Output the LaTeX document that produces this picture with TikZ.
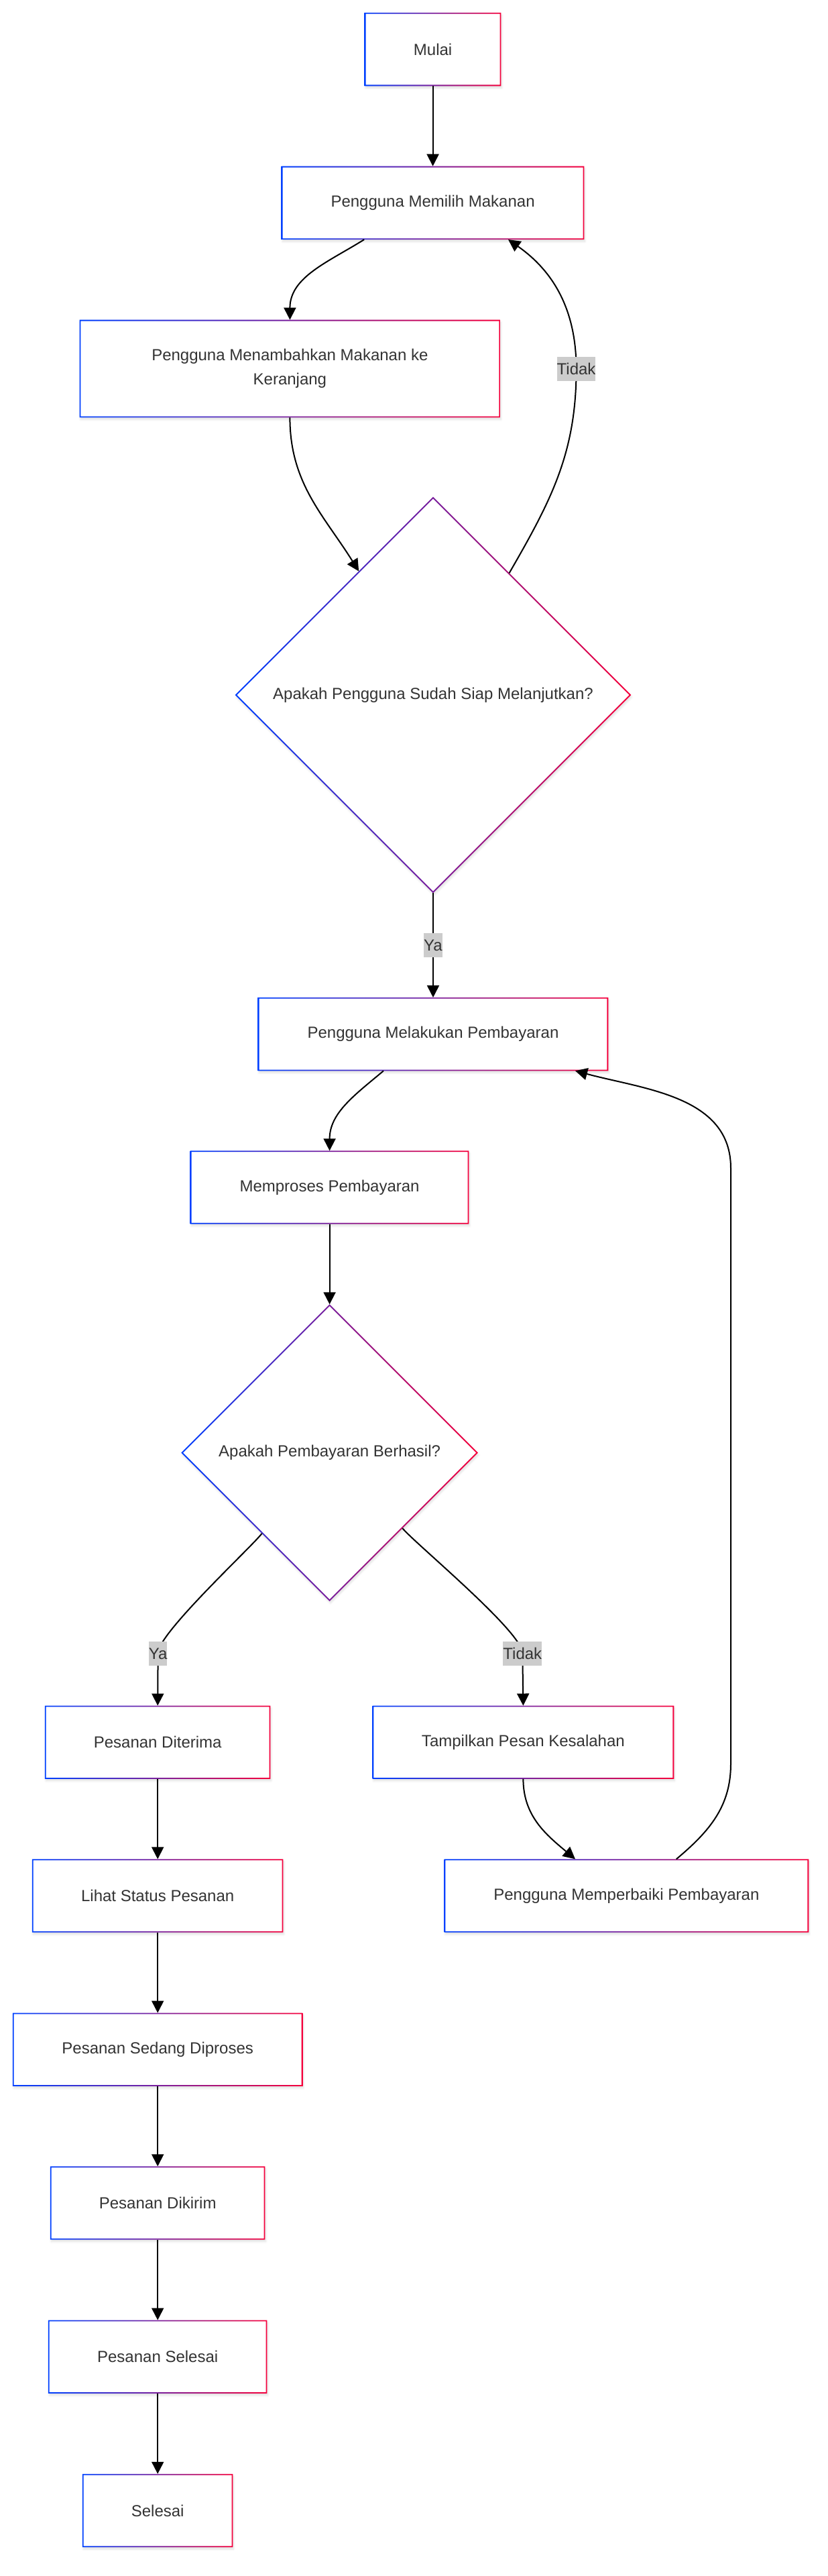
\documentclass[tikz,border=0pt]{standalone}
\usepackage{fontspec}
\setmainfont{Liberation Sans}
\usetikzlibrary{shapes.geometric, arrows.meta, shadows.blur}
\definecolor{mblue}{HTML}{0040FF}
\definecolor{mred}{HTML}{F5003C}
\definecolor{txtgray}{HTML}{333333}
\tikzset{
	stepbox/.style={rectangle, fill=white, minimum height=2.72cm, inner sep=0pt, align=center, text=txtgray, font=\fontsize{17.07pt}{25.6pt}\selectfont, blur shadow={shadow xshift=0.03cm, shadow yshift=-0.08cm, shadow opacity=12, shadow blur steps=6}},
	askbox/.style={diamond, aspect=1, fill=white, inner sep=0pt, text=txtgray, font=\fontsize{17.07pt}{25.6pt}\selectfont, blur shadow={shadow xshift=0.03cm, shadow yshift=-0.08cm, shadow opacity=12, shadow blur steps=6}},
	edgelabel/.style={fill=gray!40, text=txtgray, inner xsep=0pt, inner ysep=0pt, minimum height=0.9cm, font=\fontsize{17.07pt}{25.6pt}\selectfont},
	flow/.style={line width=0.05cm, -{Triangle[length=0.45cm, width=0.45cm]}}
}
\begin{document}
\begin{tikzpicture}
	\useasboundingbox (0, 0) rectangle (30.85, -96);
	% Nodes:
	\node[stepbox, minimum width=5.08cm] (mulai) at (16.14, -1.84) {Mulai};
	\node[stepbox, minimum width=11.28cm] (pilih) at (16.14, -7.56) {Pengguna Memilih Makanan};
	\node[stepbox, minimum width=15.68cm, minimum height=3.63cm] (tambah) at (10.81, -13.74) {Pengguna Menambahkan Makanan ke\\Keranjang};
	\node[askbox, minimum width=14.75cm, minimum height=14.75cm] (siap) at (16.15, -25.9) {Apakah Pengguna Sudah Siap Melanjutkan?};
	\node[stepbox, minimum width=13.05cm] (bayar) at (16.15, -38.54) {Pengguna Melakukan Pembayaran};
	\node[stepbox, minimum width=10.38cm] (proses) at (12.29, -44.25) {Memproses Pembayaran};
	\node[askbox, minimum width=11.05cm, minimum height=11.05cm] (berhasil) at (12.29, -54.14) {Apakah Pembayaran Berhasil?};
	\node[stepbox, minimum width=8.4cm] (diterima) at (5.88, -64.93) {Pesanan Diterima};
	\node[stepbox, minimum width=11.23cm] (salah) at (19.51, -64.93) {Tampilkan Pesan Kesalahan};
	\node[stepbox, minimum width=9.35cm] (status) at (5.88, -70.65) {Lihat Status Pesanan};
	\node[stepbox, minimum width=13.58cm] (perbaiki) at (23.36, -70.65) {Pengguna Memperbaiki Pembayaran};
	\node[stepbox, minimum width=10.8cm] (diproses) at (5.88, -76.38) {Pesanan Sedang Diproses};
	\node[stepbox, minimum width=8cm] (dikirim) at (5.88, -82.1) {Pesanan Dikirim};
	\node[stepbox, minimum width=8.15cm] (pselesai) at (5.88, -87.83) {Pesanan Selesai};
	\node[stepbox, minimum width=5.6cm] (selesai) at (5.88, -93.56) {Selesai};
	% Gradient borders:
	\foreach \n in {mulai, pilih, tambah, bayar, proses, diterima, salah, status, perbaiki, diproses, dikirim, pselesai, selesai}
		\shade[left color=mblue, right color=mred, even odd rule] (\n.south west) rectangle (\n.north east) ([shift={(0.045, 0.045)}]\n.south west) rectangle ([shift={(-0.045, -0.045)}]\n.north east);
	\foreach \n in {siap, berhasil}
		\shade[left color=mblue, right color=mred, even odd rule] (\n.north) -- (\n.east) -- (\n.south) -- (\n.west) -- cycle ([yshift=-0.064cm]\n.north) -- ([xshift=-0.064cm]\n.east) -- ([yshift=0.064cm]\n.south) -- ([xshift=0.064cm]\n.west) -- cycle;
	% Connectors:
	\draw[flow] (mulai.south) -- (pilih.north);
	\draw[flow] ([xshift=-2.56cm]pilih.south) to[out=-148, in=90] (tambah.north);
	\draw[flow] (tambah.south) to[out=-90, in=122] (siap.121);
	\draw[flow] (siap.58) to[out=60, in=-90] ++(2.5, 7.6) node[edgelabel] {Tidak} to[out=90, in=-35] ([xshift=2.81cm]pilih.south);
	\draw[flow] (siap.south) -- node[edgelabel] {Ya} (bayar.north);
	\draw[flow] ([xshift=-1.85cm]bayar.south) to[out=-140, in=90] (proses.north);
	\draw[flow] (proses.south) -- (berhasil.north);
	\draw[flow] (berhasil.-130) to[out=-128, in=95, looseness=0.3] ++(-3.875, -4.475) node[edgelabel] {Ya} -- (diterima.north);
	\draw[flow] (berhasil.-46) to[out=-50, in=85, looseness=0.3] ++(4.475, -4.675) node[edgelabel] {Tidak} -- (salah.north);
	\draw[flow] (salah.south) to[out=-90, in=140] ([xshift=-1.91cm]perbaiki.north);
	\draw[flow] ([xshift=1.86cm]perbaiki.north) to[out=40, in=-90] ++(2.03, 3.55) -- ++(0, 22.2) to[out=90, in=-15] ([xshift=-1.23cm]bayar.south east);
	\draw[flow] (diterima.south) -- (status.north);
	\draw[flow] (status.south) -- (diproses.north);
	\draw[flow] (diproses.south) -- (dikirim.north);
	\draw[flow] (dikirim.south) -- (pselesai.north);
	\draw[flow] (pselesai.south) -- (selesai.north);
\end{tikzpicture}
\end{document}
